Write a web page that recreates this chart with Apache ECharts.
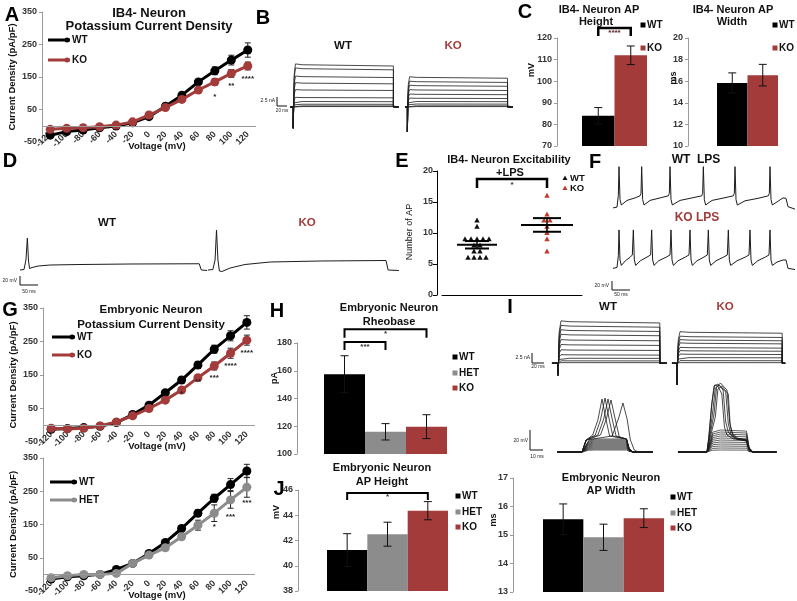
<!DOCTYPE html>
<html><head><meta charset="utf-8">
<script src="https://cdn.jsdelivr.net/npm/echarts@6/dist/echarts.min.js"></script>
<style>html,body{margin:0;padding:0;background:#fff}#chart{width:797px;height:601px}</style>
</head><body><div id="chart"></div>
<script>
// ================= DATA =================
const voltages = ['-120','-100','-80','-60','-40','-20','0','20','40','60','80','100','120'];
// Panel A: IB4- neuron potassium current density (pA/pF)
const aWT    = [-29,-18,-13,-6,-1,9,28,60,94,135,169,202,233];
const aWTErr = [3,3,3,3,3,3,4,5,6,8,12,15,22];
const aKO    = [-11,-8,-6,-3,2,12,33,56,81,110,135,161,184];
const aKOErr = [3,3,3,3,3,3,4,5,6,7,10,12,12];
const aStarIdx = [10,11,12], aStarVal = [89,123,145], aStarTxt = ['*','**','****'];
// Panel G top: embryonic neuron WT vs KO
const gWT    = [-12,-10,-7,-3,8,32,60,97,135,180,227,267,307];
const gWTErr = [3,3,3,3,3,4,5,6,8,10,12,15,20];
const gKO    = [-9,-11,-9,-2,10,28,50,75,105,142,177,215,254];
const gKOErr = [3,3,3,3,3,4,5,6,7,8,12,15,15];
const gStarIdx = [8,9,10,11,12], gStarVal = [95,131,143,176,215], gStarTxt = ['*','**','***','****','****'];
// Panel G bottom: WT vs HET
const hWT     = [-14,-7,-4,0,15,33,63,96,138,184,229,270,311];
const hWTErr  = [3,3,3,3,3,4,5,6,8,10,12,18,20];
const hHET    = [-10,-4,0,0,3,33,58,80,113,148,184,224,262];
const hHETErr = [3,3,3,3,3,4,5,6,8,15,25,25,30];
const hStarIdx = [10,11,12], hStarVal = [143,173,214], hStarTxt = ['*','***','***'];
// Panel C bars
const cHeight = [84, 112],  cHeightErr = [3.8, 4.3];
const cWidth  = [15.84, 16.56], cWidthErr = [0.93, 1.0];
// Panel E: number of AP (+LPS)
const eWT = [12,11,9,9,9,9,9,8,8,7,7,6,6,6,6];
const eKO = [16,13,12,12,11,10,9,7];
const eMean = [8.1, 11.3], eSem = [0.6, 1.1];
// Panel H: rheobase (pA)  WT, HET, KO
const rheo = [157.5, 116, 119.7], rheoErr = [13.3, 5.9, 8.6];
// Panel J: AP height (mV)
const apH = [41.24, 42.5, 44.36], apHErr = [1.3, 0.95, 0.72];
// AP width (ms)
const apW = [15.55, 14.92, 15.59], apWErr = [0.54, 0.46, 0.33];
// Panel B: step current levels (nA)
const bWT = [11.7, 10.6, 8.4, 6.6, 4.7, 2.6, 1.5, 0.75, 0.28, 0.1];
const bKO = [8.2, 7.0, 5.9, 4.7, 3.5, 2.4, 1.5, 0.8, 0.3, 0.1];
// Panel I top: step current levels (nA)
const iWT = [10.4, 9.3, 8.2, 7.1, 5.8, 4.6, 3.3, 2.1, 1.25, 0.6, 0.15];
const iKO = [7.75, 6.65, 5.8, 5.0, 3.9, 3.1, 2.25, 1.4, 0.65, 0.15];
// Panel I bottom: subthreshold plateau levels (mV)
const iSubWT = [2,3,4,5,6,7,8,9,10,11,12,13];
const iSubKO = [2,4,6,8,10,12,14,16,18,20,22];
// Panel I bottom spiking traces [ms, mV]
const iSpWT = [
 [[2,0],[20.8,0],[24,12],[29,17],[33,32],[36.2,53],[39,34],[42,16],[55,13],[57,3],[60,0],[75,0]],
 [[2,0],[20.8,0],[24,12],[31,17],[35,32],[38.5,54],[41.5,34],[44.5,16],[55,13],[57,3],[60,0],[75,0]],
 [[2,0],[20.8,0],[24,12],[33,17],[37.5,33],[40.8,53],[44,33],[47,16],[55,13],[57,3],[60,0],[75,0]],
 [[2,0],[20.8,0],[24,12],[35,17],[39.5,33],[43.1,52],[46.5,32],[49.5,15],[55,13],[57,3],[60,0],[75,0]],
 [[2,0],[20.8,0],[24,12],[44,16],[49,34],[52.3,49],[55.5,33],[58,12],[61,2],[64,0],[75,0]]
];
const iSpKO = [
 [[2.3,0],[24.6,0],[26,15],[28,45],[30,66],[33,68],[37,62],[39,30],[41,20],[45,14],[55,12],[57,3],[60,0],[78,0]],
 [[2.3,0],[24.6,0],[26,12],[29,40],[31,64],[34,67],[39,60],[41,28],[43,18],[47,13],[55,11],[57,3],[60,0],[78,0]],
 [[2.3,0],[24.6,0],[26,10],[30,38],[32,65],[35,69],[40,62],[42,30],[44,19],[48,14],[55,12],[57,3],[60,0],[78,0]],
 [[2.3,0],[24.6,0],[26,14],[28.5,50],[30.5,67],[33,66],[36,58],[38,25],[40,17],[45,13],[55,12],[57,3],[60,0],[78,0]],
 [[2.3,0],[24.6,0],[26,9],[31,35],[33,63],[36,66],[41,58],[42.5,26],[44.5,17],[48,13],[55,11],[57,3],[60,0],[78,0]]
];
// Panel D: single AP traces [ms, mV]
const dWT = [[5.6,-60],[16.7,-59],[22,-40],[26,4],[29,-40],[32,-57],[39,-55],[56,-52],[89,-50],[172,-49],[311,-48],[503,-47.5],[509,-60],[525,-61]];
const dKO = [[8.3,-60],[22,-59],[28,-40],[32,20],[36,-40],[40,-62],[47,-63],[70,-56],[111,-49],[181,-44],[320,-42],[503,-41],[509,-60],[539,-61]];
// Panel F: repetitive firing traces [ms, mV]
const fWT = [[3,-60],[15,-58],[19,-30],[21,39],[24,-40],[28,-53],
 [45,-42],[69,-36],[84,-31],[87,-25],[89,39],[92,-40],[96,-53],
 [114,-42],[144,-36],[169,-31],[172,-25],[174,39],[177,-40],[181,-53],
 [204,-42],[240,-36],[269,-31],[272,-25],[274,39],[277,-40],[281,-53],
 [300,-42],[336,-36],[364,-31],[367,-25],[369,39],[372,-40],[376,-53],
 [399,-43],[438,-37],[469,-31],[472,-25],[474,39],[477,-40],[481,-53],
 [498,-44],[513,-36],[522,-37],[528,-57],[549,-63]];
const fKO = [[3,-60],[15,-58],[19,-30],[21,32],[24,-40],[28,-53],
 [40,-42],[55,-33],[61,-28],[64,32],[67,-40],[71,-53],
 [85,-42],[105,-33],[116,-28],[119,32],[122,-40],[126,-53],
 [140,-42],[163,-33],[174,-28],[177,32],[180,-40],[184,-53],
 [198,-42],[220,-33],[231,-28],[234,32],[237,-40],[241,-53],
 [255,-42],[276,-33],[286,-28],[289,32],[292,-40],[296,-53],
 [312,-42],[335,-33],[346,-28],[349,32],[352,-40],[356,-53],
 [375,-42],[400,-33],[411,-28],[414,32],[417,-40],[421,-53],
 [437,-42],[460,-33],[471,-28],[474,32],[477,-40],[481,-53],
 [495,-45],[513,-40],[522,-40],[528,-60],[549,-63]];

// ================= BUILD =================
const FONT = '"Liberation Sans", Arial, Helvetica, sans-serif';
const RED = '#a33b3b', GRAY = '#8c8c8c', BLACK = '#000000', TR = '#1c1c1c', AX = '#9a9a9a';
const grids = [], xAxes = [], yAxes = [], series = [], graphics = [];

function addGrid(box, xa, ya) {
  grids.push(Object.assign({containLabel:false}, box));
  const gi = grids.length - 1;
  xa.gridIndex = gi; ya.gridIndex = gi;
  xAxes.push(xa); yAxes.push(ya);
  return gi;
}
function onG(gi, s) { s.xAxisIndex = gi; s.yAxisIndex = gi; s.animation = false; series.push(s); return s; }
function txtStyle(text, size, color, weight, align, valign) {
  return {text:text, font:(weight||'bold')+' '+size+'px '+FONT, fill:color||'#111',
    align:align||'center', verticalAlign:valign||'middle', textAlign:align||'center', textVerticalAlign:valign||'middle'};
}
function T(x, y, text, size, color, opts) {
  opts = opts || {};
  const el = {type:'text', x:x, y:y, z:50, silent:true, style:txtStyle(text, size, color, opts.weight, opts.align, opts.valign)};
  if (opts.rot) el.rotation = opts.rot;
  graphics.push(el);
}
function L(points, color, w) {
  graphics.push({type:'polyline', z:50, silent:true, shape:{points:points}, style:{stroke:color||'#111', lineWidth:w||1, fill:null}});
}
function errBars(gi, vals, errs, color, cap, z) {
  onG(gi, {type:'custom', silent:true, z:z||4, data: vals.map((v,i)=>[i,v]),
    renderItem:(p, api) => {
      const i = p.dataIndex, v = vals[i], e = errs[i];
      const t = api.coord([i, v+e]), b = api.coord([i, v-e]), w = cap/2;
      return {type:'group', children:[
        {type:'line', shape:{x1:t[0],y1:t[1],x2:b[0],y2:b[1]}, style:{stroke:color,lineWidth:1}},
        {type:'line', shape:{x1:t[0]-w,y1:t[1],x2:t[0]+w,y2:t[1]}, style:{stroke:color,lineWidth:1}},
        {type:'line', shape:{x1:b[0]-w,y1:b[1],x2:b[0]+w,y2:b[1]}, style:{stroke:color,lineWidth:1}}]};
    }});
}
function starTexts(gi, idx, vals, txt) {
  onG(gi, {type:'custom', silent:true, z:6, data: idx.map((c,k)=>[c, vals[k]]),
    renderItem:(p, api) => {
      const k = p.dataIndex, c = api.coord([idx[k], vals[k]]);
      return {type:'text', x:c[0], y:c[1], style:txtStyle(txt[k], 8, '#222')};
    }});
}
function brackets(gi, defs, lw, starColor) {
  onG(gi, {type:'custom', silent:true, z:6, data: defs.map(d=>[d.a, d.top]),
    renderItem:(p, api) => {
      const d = defs[p.dataIndex];
      const a1 = api.coord([d.a, d.leg]), a2 = api.coord([d.a, d.top]), b2 = api.coord([d.b, d.top]), b1 = api.coord([d.b, d.leg]);
      const s1 = api.coord([d.a, d.starY]), s2 = api.coord([d.b, d.starY]);
      return {type:'group', children:[
        {type:'polyline', shape:{points:[a1,a2,b2,b1]}, style:{stroke:'#000', lineWidth:lw, fill:null}},
        {type:'text', x:(s1[0]+s2[0])/2, y:s1[1], style:txtStyle(d.star, 8, starColor||'#333')}]};
    }});
}

// ---- IV plots ----
function ivPlot(box, s1, s2, st) {
  const gi = addGrid(box,
    {type:'category', data:voltages, boundaryGap:true, axisLine:{show:false}, axisTick:{show:false},
     axisLabel:{rotate:45, margin:-9, interval:0, fontSize:9, fontWeight:'bold', color:'#333', fontFamily:FONT}},
    {type:'value', min:-50, max:350, interval:100,
     axisLine:{show:true, lineStyle:{color:AX}}, axisTick:{show:true, length:3, lineStyle:{color:AX}},
     splitLine:{show:false}, axisLabel:{fontSize:9, fontWeight:'bold', color:'#333', fontFamily:FONT, margin:5},
     name:'Current Density (pA/pF)', nameLocation:'middle', nameRotate:90, nameGap:25,
     nameTextStyle:{fontSize:9.5, fontWeight:'bold', color:'#111', fontFamily:FONT}});
  onG(gi, {type:'line', name:s1.name, data:s1.vals, symbol:'circle', symbolSize:9, z:3,
    lineStyle:{width:3, color:s1.color}, itemStyle:{color:s1.color},
    markLine:{silent:true, symbol:['none','none'], label:{show:false}, animation:false,
      lineStyle:{color:AX, width:1, type:'solid'}, data:[{yAxis:0}]}});
  errBars(gi, s1.vals, s1.errs, '#222', 6, 2);
  onG(gi, {type:'line', name:s2.name, data:s2.vals, symbol:'circle', symbolSize:9, z:4,
    lineStyle:{width:3, color:s2.color}, itemStyle:{color:s2.color}});
  errBars(gi, s2.vals, s2.errs, '#222', 6, 2);
  starTexts(gi, st.idx, st.vals, st.txt);
  T(box.left + box.width/2 + 8, box.top + box.height + 4, 'Voltage (mV)', 9.5, '#111');
  return gi;
}
ivPlot({left:42, top:12, width:214, height:130},
  {name:'WT', vals:aWT, errs:aWTErr, color:BLACK}, {name:'KO', vals:aKO, errs:aKOErr, color:RED},
  {idx:aStarIdx, vals:aStarVal, txt:aStarTxt});
ivPlot({left:43, top:308, width:212, height:134},
  {name:'WT', vals:gWT, errs:gWTErr, color:BLACK}, {name:'KO', vals:gKO, errs:gKOErr, color:RED},
  {idx:gStarIdx, vals:gStarVal, txt:gStarTxt});
ivPlot({left:43, top:458, width:212, height:133},
  {name:'WT', vals:hWT, errs:hWTErr, color:BLACK}, {name:'HET', vals:hHET, errs:hHETErr, color:GRAY},
  {idx:hStarIdx, vals:hStarVal, txt:hStarTxt});

// ---- bar plots ----
function barPlot(box, vals, errs, colors, ymin, ymax, step, offset) {
  const gi = addGrid(box,
    {type:'category', data: vals.map((_,i)=>String(i)), boundaryGap:true, axisLine:{show:false}, axisTick:{show:false}, axisLabel:{show:false}},
    {type:'value', min:ymin, max:ymax, interval:step, offset:offset,
     axisLine:{show:true, lineStyle:{color:AX}}, axisTick:{show:true, length:3, lineStyle:{color:AX}},
     splitLine:{show:false}, axisLabel:{fontSize:9, fontWeight:'bold', color:'#333', fontFamily:FONT, margin:5}});
  onG(gi, {type:'bar', barCategoryGap:'0%', barWidth:'100%', z:2,
    data: vals.map((v,i)=>({value:v, itemStyle:{color:colors[i]}}))});
  errBars(gi, vals, errs, '#111', 8, 4);
  return gi;
}
const cL = barPlot({left:582, top:38, width:65, height:108}, cHeight, cHeightErr, [BLACK, RED], 70, 120, 10, 25);
brackets(cL, [{a:0, b:1, leg:120.9, top:124.6, starY:122.6, star:'****'}], 2.5, '#552222');
barPlot({left:717, top:38, width:61, height:108}, cWidth, cWidthErr, [BLACK, RED], 10, 20, 2, 29);
const hG = barPlot({left:324, top:343, width:123, height:111}, rheo, rheoErr, [BLACK, GRAY, RED], 100, 180, 20, 27);
brackets(hG, [{a:0, b:1, leg:175, top:180.7, starY:177, star:'***'},
              {a:0, b:2, leg:183.8, top:190, starY:186.8, star:'*'}], 2, '#333');
const jG = barPlot({left:327, top:490, width:121, height:101}, apH, apHErr, [BLACK, GRAY, RED], 38, 46, 2, 29);
brackets(jG, [{a:0, b:2, leg:45.2, top:45.76, starY:45.5, star:'*'}], 2, '#333');
barPlot({left:543, top:478, width:121, height:114}, apW, apWErr, [BLACK, GRAY, RED], 13, 17, 1, 30);

// ---- Panel E scatter ----
const eG = addGrid({left:442, top:171, width:140, height:124},
  {type:'category', data:['WT','KO'], boundaryGap:true, axisLine:{show:true, lineStyle:{color:'#000'}}, axisTick:{show:false}, axisLabel:{show:false}},
  {type:'value', min:0, max:20, interval:5, offset:5,
   axisLine:{show:true, lineStyle:{color:'#000'}}, axisTick:{show:true, length:4, lineStyle:{color:'#000'}},
   splitLine:{show:false}, axisLabel:{fontSize:9, fontWeight:'bold', color:'#333', fontFamily:FONT, margin:4}});
function swarm(vals, idx) {
  const count = {}, seen = {};
  vals.forEach(v => count[v] = (count[v]||0) + 1);
  return vals.map(v => { seen[v] = (seen[v]||0) + 1; return [idx, v, seen[v]-1-(count[v]-1)/2]; });
}
const ePts = swarm(eWT, 0).concat(swarm(eKO, 1));
onG(eG, {type:'custom', silent:true, z:3, data: ePts.map(d=>[d[0], d[1]]),
  renderItem:(p, api) => {
    const d = ePts[p.dataIndex], c = api.coord([d[0], d[1]]);
    const x = c[0] + d[2]*6, y = c[1];
    return {type:'polygon', shape:{points:[[x,y-3],[x-2.7,y+2],[x+2.7,y+2]]}, style:{fill: d[0]===0 ? '#111' : '#c0392b'}};
  }});
const eHalf = [[20, 12], [26, 14]];
onG(eG, {type:'custom', silent:true, z:5, data: eMean.map((m,i)=>[i,m]),
  renderItem:(p, api) => {
    const i = p.dataIndex, m = api.coord([i, eMean[i]]), hi = api.coord([i, eMean[i]+eSem[i]]), lo = api.coord([i, eMean[i]-eSem[i]]);
    const hw = eHalf[i][0], sw = eHalf[i][1];
    return {type:'group', children:[
      {type:'line', shape:{x1:m[0]-hw, y1:m[1], x2:m[0]+hw, y2:m[1]}, style:{stroke:'#000', lineWidth:2}},
      {type:'line', shape:{x1:hi[0]-sw, y1:hi[1], x2:hi[0]+sw, y2:hi[1]}, style:{stroke:'#000', lineWidth:2}},
      {type:'line', shape:{x1:lo[0]-sw, y1:lo[1], x2:lo[0]+sw, y2:lo[1]}, style:{stroke:'#000', lineWidth:2}},
      {type:'line', shape:{x1:hi[0], y1:hi[1], x2:lo[0], y2:lo[1]}, style:{stroke:'#000', lineWidth:1.5}}]};
  }});
brackets(eG, [{a:0, b:1, leg:17.26, top:18.7, starY:17.7, star:'*'}], 2.5, '#333');

// ---- traces ----
function traceGrid(box, xmin, xmax, ymin, ymax) {
  return addGrid(box, {type:'value', min:xmin, max:xmax, show:false}, {type:'value', min:ymin, max:ymax, show:false});
}
function trace(gi, pts, color, w) {
  onG(gi, {type:'line', data:pts, symbol:'none', silent:true, clip:false, z:2,
    lineStyle:{color:color||TR, width:w||0.8}});
}
function stepTrace(level, neg, tS, tOn, tOff, tE) {
  return [[tS,0],[tOn,0],[tOn,neg],[tOn+0.8,0],[tOn+2,level*0.75],[tOn+5,level*1.02],[tOn+20,level],[tOff,level*0.97],[tOff,0],[tE,0]];
}
// B
const bG1 = traceGrid({left:288, top:55, width:112, height:75}, 0, 255, -6.4, 14.4);
bWT.forEach(l => trace(bG1, stepTrace(l, -5.9, 5, 12, 240, 252)));
const bG2 = traceGrid({left:403, top:55, width:112, height:75}, 0, 255, -6.4, 14.4);
bKO.forEach(l => trace(bG2, stepTrace(l, -6.9, 5, 10, 238, 250)));
// I top
const iG1 = traceGrid({left:550, top:315, width:120, height:75}, 0, 200, -6.7, 12.08);
iWT.forEach(l => trace(iG1, stepTrace(l, -3, 3.3, 13.3, 183, 195)));
const iG2 = traceGrid({left:670, top:315, width:120, height:75}, 0, 200, -6.7, 12.08);
iKO.forEach(l => trace(iG2, stepTrace(l, -5.4, 3.3, 11.7, 187, 192)));
// I bottom
const iG3 = traceGrid({left:555, top:385, width:105, height:75}, 0, 80.8, -8, 67);
iSubWT.forEach(l => trace(iG3, [[2,0],[20.8,0],[26,0.9*l],[30,l],[55,l],[57,0.3*l],[60,0],[75,0]], TR, 0.7));
iSpWT.forEach(pts => trace(iG3, pts, TR, 0.8));
const iG4 = traceGrid({left:675, top:385, width:110, height:75}, 0, 84.6, -8, 67);
iSubKO.forEach(l => trace(iG4, [[2.3,0],[24.6,0],[29,0.9*l],[35,l],[55,0.95*l],[57,0.2*l],[60,0],[78,0]], TR, 0.7));
iSpKO.forEach(pts => trace(iG4, pts, TR, 0.8));
// D
const dG1 = traceGrid({left:18, top:225, width:192, height:50}, 0, 533, -70, 30);
trace(dG1, dWT, TR, 1);
const dG2 = traceGrid({left:205, top:225, width:195, height:50}, 0, 542, -70, 30);
trace(dG2, dKO, TR, 1);
// F
const fG1 = traceGrid({left:612, top:160, width:185, height:55}, 0, 555, -77, 55);
trace(fG1, fWT, TR, 1);
const fG2 = traceGrid({left:612, top:222, width:185, height:53}, 0, 555, -76, 51);
trace(fG2, fKO, TR, 1);

// ================= ANNOTATIONS =================
// panel letters
[['A',12,15],['B',263,18],['C',525,12],['D',10,161],['E',402,161],['F',595,162],['G',10,310],['H',277,311],['I',510,307],['J',279,489]]
  .forEach(d => T(d[1], d[2], d[0], 20, '#000'));
// titles
T(149,13,'IB4- Neuron',13); T(149,26,'Potassium Current Density',13);
T(151,310,'Embryonic Neuron',11.5); T(151,325,'Potassium Current Density',11.5);
T(599,10,'IB4- Neuron AP',11); T(596,22,'Height',11);
T(733,10,'IB4- Neuron AP',11); T(732,22,'Width',11);
T(509,160,'IB4- Neuron Excitability',11); T(510,173,'+LPS',11);
T(389,308,'Embryonic Neuron',11); T(389,322,'Rheobase',11);
T(382,468,'Embryonic Neuron',11); T(382,482,'AP Height',11);
T(611,478,'Embryonic Neuron',11); T(611,491,'AP Width',11);
// axis names for bars / scatter
T(532,70,'mV',9,'#111',{rot:Math.PI/2}); T(674,78,'ms',9,'#111',{rot:Math.PI/2});
T(275,378,'pA',9,'#111',{rot:Math.PI/2}); T(277,512,'mV',9,'#111',{rot:Math.PI/2});
T(494,520,'ms',9,'#111',{rot:Math.PI/2}); T(410,232,'Number of AP',9,'#111',{rot:Math.PI/2, weight:'normal'});
// IV legends
function lineLegend(x1, x2, y, color, label) {
  graphics.push({type:'line', z:50, silent:true, shape:{x1:x1, y1:y, x2:x2, y2:y}, style:{stroke:color, lineWidth:3}});
  graphics.push({type:'circle', z:50, silent:true, shape:{cx:x2-3, cy:y, r:2.5}, style:{fill:color}});
  T(x2+2, y, label, 10, '#111', {align:'left'});
}
lineLegend(48,70,40,BLACK,'WT'); lineLegend(48,70,60,RED,'KO');
lineLegend(52,75,337,BLACK,'WT'); lineLegend(52,75,355,RED,'KO');
lineLegend(50,77,482,BLACK,'WT'); lineLegend(50,77,500,GRAY,'HET');
// bar legends
function sqLegend(x, y, color, label) {
  graphics.push({type:'rect', z:50, silent:true, shape:{x:x-2.5, y:y-2.5, width:5, height:5}, style:{fill:color}});
  T(x+4, y, label, 10, '#111', {align:'left'});
}
sqLegend(643,25,BLACK,'WT'); sqLegend(643,48,RED,'KO');
sqLegend(775,25,BLACK,'WT'); sqLegend(775,48,RED,'KO');
sqLegend(455,357,BLACK,'WT'); sqLegend(455,373,GRAY,'HET'); sqLegend(455,388,RED,'KO');
sqLegend(458,496,BLACK,'WT'); sqLegend(458,512,GRAY,'HET'); sqLegend(458,527,RED,'KO');
sqLegend(673,497,BLACK,'WT'); sqLegend(673,513,GRAY,'HET'); sqLegend(673,528,RED,'KO');
// E legend
graphics.push({type:'polygon', z:50, silent:true, shape:{points:[[565,175.5],[562.5,180],[567.5,180]]}, style:{fill:'#111'}});
T(570,178,'WT',9.5,'#111',{align:'left'});
graphics.push({type:'polygon', z:50, silent:true, shape:{points:[[565,185.5],[562.5,190],[567.5,190]]}, style:{fill:'#c0392b'}});
T(570,188,'KO',9.5,'#111',{align:'left'});
// trace labels
T(343,46,'WT',11.5); T(453,46,'KO',11.5,RED);
T(107,223,'WT',11.5); T(307,223,'KO',11.5,RED);
T(696,160,'WT  LPS',12); T(697,218,'KO LPS',12,RED);
T(608,307,'WT',11.5); T(725,307,'KO',11.5,RED);
// scale bars
L([[277,97],[277,106],[287,106]]); T(275,101,'2.5 nA',5,'#222',{align:'right',weight:'normal'}); T(282,111,'20 ms',4.5,'#222',{weight:'normal'});
L([[20,276],[20,285],[38,285]]); T(17,281,'20 mV',5,'#222',{align:'right',weight:'normal'}); T(29,292,'50 ms',5,'#222',{weight:'normal'});
L([[612,281],[612,290],[630,290]]); T(609,286,'20 mV',5,'#222',{align:'right',weight:'normal'}); T(621,295,'50 ms',5,'#222',{weight:'normal'});
L([[532,353],[532,363],[544,363]]); T(530,358,'2.5 nA',5,'#222',{align:'right',weight:'normal'}); T(538,367,'20 ms',5,'#222',{weight:'normal'});
L([[530,430],[530,450],[543,450]]); T(528,441,'20 mV',5,'#222',{align:'right',weight:'normal'}); T(537,457,'10 ms',5,'#222',{weight:'normal'});

const chart = echarts.init(document.getElementById('chart'), null, {renderer:'canvas'});
chart.setOption({animation:false, backgroundColor:'#ffffff', textStyle:{fontFamily:FONT},
  grid:grids, xAxis:xAxes, yAxis:yAxes, series:series, graphic:{elements:graphics}});
</script></body></html>
